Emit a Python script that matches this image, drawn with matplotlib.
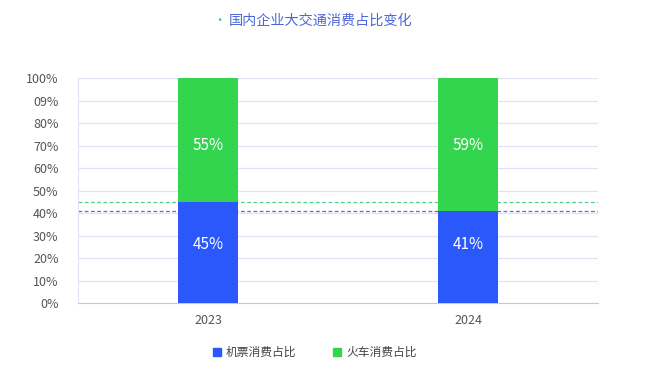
import matplotlib
matplotlib.use('Agg')
import matplotlib.pyplot as plt
from matplotlib.patches import Rectangle

plt.rcParams['font.family'] = ['Noto Sans CJK SC', 'DejaVu Sans']

# Data
years = ['2023', '2024']
flight_share = [45, 41]
train_share = [55, 59]
yticks = [0, 10, 20, 30, 40, 50, 60, 70, 80, 90, 100]
ytick_labels = ['0%', '10%', '20%', '30%', '40%', '50%', '60%', '70%', '80%', '09%', '100%']
title = '国内企业大交通消费占比变化'
series_names = ['机票消费占比', '火车消费占比']

blue = '#2a58fb'
green = '#33d54f'

fig = plt.figure(figsize=(6.5, 3.77), dpi=100)
ax = fig.add_axes([0.12, 0.196, 0.8, 0.597])

x = range(len(years))
ax.bar(x, flight_share, width=0.23, color=blue, zorder=3)
ax.bar(x, train_share, width=0.23, bottom=flight_share, color=green, zorder=3)

# labels sit at the same height in both bars
for i in x:
    ax.text(i, 26, f'{flight_share[i]}%', ha='center', va='center',
            color='white', fontsize=11, zorder=4)
    ax.text(i, 70, f'{train_share[i]}%', ha='center',
            va='center', color='white', fontsize=11, zorder=4)

# reference lines
ax.axhline(flight_share[0], color='#4ed48a', lw=0.9, ls=(0, (3, 2)), zorder=2)
ax.axhline(flight_share[1], color='#5a6ae0', lw=0.9, ls=(0, (3, 2)), zorder=2)

ax.set_xlim(-0.5, 1.5)
ax.set_ylim(0, 100)
ax.set_yticks(yticks)
ax.set_yticklabels(ytick_labels)
ax.set_xticks(list(x))
ax.set_xticklabels(years)
ax.grid(axis='y', color='#e2e2f4', lw=0.9, zorder=0)
ax.tick_params(axis='both', length=0, labelsize=9, colors='#555555')
ax.tick_params(axis='y', pad=14)
ax.tick_params(axis='x', pad=8)
for s in ['top', 'right']:
    ax.spines[s].set_visible(False)
ax.spines['left'].set_color('#e2e2f4')
ax.spines['bottom'].set_color('#c8c8d0')

# title
fig.text(0.338, 0.945, '•', color='#3cc864', fontsize=9, ha='center', va='center')
fig.text(0.352, 0.945, title, color='#4b68d6', fontsize=10.2, ha='left', va='center')

# legend
ax.legend(handles=[Rectangle((0, 0), 1, 1, color=blue), Rectangle((0, 0), 1, 1, color=green)],
          labels=series_names, loc='center', bbox_to_anchor=(0.455, -0.22), ncol=2,
          frameon=False, fontsize=8.5, handlelength=0.7, handleheight=0.7,
          columnspacing=3.15, handletextpad=0.4, labelcolor='#444444')

fig.savefig('out.png', dpi=100, facecolor='white')
